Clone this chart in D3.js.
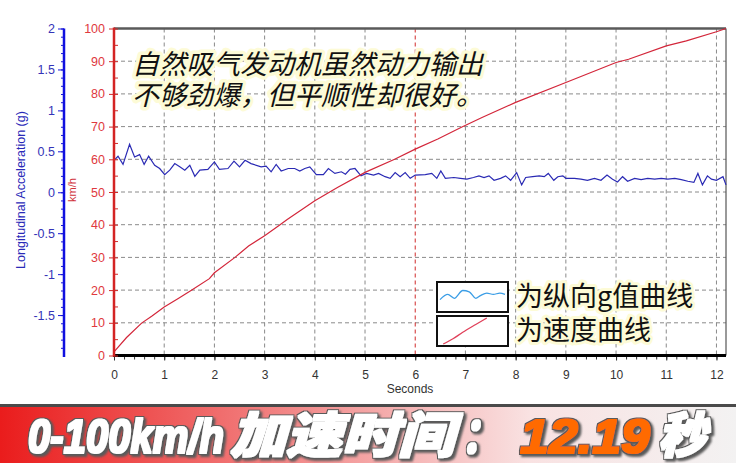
<!DOCTYPE html>
<html><head><meta charset="utf-8">
<script src="https://cdn.jsdelivr.net/npm/d3@7"></script>
<style>
html,body{margin:0;padding:0;background:#fff;}
svg{display:block;}
</style></head>
<body>
<svg id="c" width="736" height="463"></svg>
<script>
// ---- data ----
const speedT = [0, 0.25, 0.55, 0.75, 1, 1.28, 1.55, 1.9, 2, 2.41, 2.68, 3, 3.28, 3.45, 4, 4.45, 5, 5.59, 6, 6.45, 6.92, 7.33, 8, 9, 10, 10.25, 11, 11.4, 12, 12.19];
const speedV = [1.1, 5.5, 9.9, 12, 14.8, 17.4, 20, 23.5, 25.3, 30, 33.5, 36.6, 39.7, 41.6, 47.3, 51.4, 56, 60, 63.1, 66.2, 69.8, 72.8, 77.4, 83.5, 89.6, 90.6, 94.7, 96.2, 99, 100];

const gT = [0, 0.08, 0.18, 0.31, 0.41, 0.51, 0.6, 0.69, 0.81, 0.91, 1.01, 1.11, 1.21, 1.31, 1.41, 1.51, 1.61, 1.71, 1.87, 2.0, 2.1, 2.27, 2.39, 2.5, 2.61, 2.73, 2.93, 3.03, 3.13, 3.23, 3.33, 3.47, 3.6, 3.7, 3.8, 3.9, 4.03, 4.17, 4.27, 4.4, 4.53, 4.61, 4.7, 4.8, 4.92, 5.03, 5.17, 5.27, 5.4, 5.5, 5.6, 5.7, 5.8, 5.9, 6.0, 6.2, 6.33, 6.43, 6.51, 6.6, 6.77, 6.9, 7.03, 7.16, 7.27, 7.37, 7.47, 7.57, 7.7, 7.8, 7.9, 8.02, 8.12, 8.2, 8.34, 8.47, 8.57, 8.65, 8.76, 8.84, 8.94, 9.0, 9.17, 9.3, 9.43, 9.57, 9.7, 9.82, 9.93, 10.03, 10.13, 10.23, 10.37, 10.5, 10.63, 10.77, 10.9, 11.03, 11.17, 11.3, 11.43, 11.55, 11.63, 11.72, 11.82, 11.9, 12.0, 12.13, 12.19];
const gV = [0.39, 0.44, 0.34, 0.585, 0.43, 0.46, 0.34, 0.44, 0.33, 0.29, 0.215, 0.27, 0.35, 0.31, 0.27, 0.33, 0.195, 0.27, 0.28, 0.37, 0.28, 0.29, 0.38, 0.31, 0.39, 0.35, 0.31, 0.32, 0.25, 0.34, 0.26, 0.29, 0.29, 0.26, 0.29, 0.31, 0.215, 0.215, 0.29, 0.23, 0.25, 0.22, 0.28, 0.29, 0.2, 0.23, 0.21, 0.23, 0.19, 0.17, 0.24, 0.19, 0.24, 0.17, 0.21, 0.215, 0.23, 0.17, 0.26, 0.17, 0.18, 0.17, 0.16, 0.18, 0.2, 0.18, 0.2, 0.146, 0.17, 0.2, 0.146, 0.24, 0.09, 0.18, 0.19, 0.2, 0.19, 0.23, 0.146, 0.19, 0.2, 0.17, 0.17, 0.16, 0.146, 0.17, 0.146, 0.21, 0.16, 0.126, 0.19, 0.134, 0.17, 0.155, 0.17, 0.16, 0.17, 0.16, 0.17, 0.155, 0.134, 0.12, 0.23, 0.09, 0.2, 0.16, 0.146, 0.19, 0.09];

const xTicks = [0,1,2,3,4,5,6,7,8,9,10,11,12];
const speedTicks = [0,10,20,30,40,50,60,70,80,90,100];
const gTicks = [-1.5,-1,-0.5,0,0.5,1,1.5,2];
const noteLines = ["自然吸气发动机虽然动力输出", "不够劲爆，但平顺性却很好。"];
const legendLabels = ["为纵向g值曲线", "为速度曲线"];
const bannerParts = ["0-100km/h", "加速时间", "：", "12.19", "秒"];

// ---- scales ----
const svg = d3.select("#c");
const x = d3.scaleLinear().domain([0, 12.19]).range([114, 726]);
const yS = d3.scaleLinear().domain([0, 100]).range([355.5, 28.5]);
const yG = d3.scaleLinear().domain([-2, 2]).range([356, 28.5]);
const pTop = 28.5, pBottom = 355.5, pLeft = 114, pRight = 726;
const FONT = "'Liberation Sans', Arial, sans-serif";
const CJK = "'Noto Sans CJK SC', sans-serif";

// ---- defs ----
const defs = svg.append("defs");
const gr = defs.append("linearGradient").attr("id", "bg").attr("x1", 0).attr("x2", 1).attr("y1", 0).attr("y2", 0);
gr.append("stop").attr("offset", "0%").attr("stop-color", "#ea1c1c");
gr.append("stop").attr("offset", "35%").attr("stop-color", "#f17b7b");
gr.append("stop").attr("offset", "72%").attr("stop-color", "#f9e2e2");
gr.append("stop").attr("offset", "100%").attr("stop-color", "#f3f2f2");
const fb = defs.append("filter").attr("id", "heavy").attr("x", "-10%").attr("y", "-20%").attr("width", "130%").attr("height", "150%");
fb.append("feMorphology").attr("in", "SourceGraphic").attr("operator", "dilate").attr("radius", 0.9).attr("result", "fat");
fb.append("feMorphology").attr("in", "SourceAlpha").attr("operator", "dilate").attr("radius", 2).attr("result", "ol");
fb.append("feFlood").attr("flood-color", "#5a5a5a").attr("result", "fc");
fb.append("feComposite").attr("in", "fc").attr("in2", "ol").attr("operator", "in").attr("result", "olc");
fb.append("feOffset").attr("in", "olc").attr("dx", 2).attr("dy", 2).attr("result", "sh");
fb.append("feGaussianBlur").attr("in", "sh").attr("stdDeviation", 1).attr("result", "shb");
const fm = fb.append("feMerge");
fm.append("feMergeNode").attr("in", "shb");
fm.append("feMergeNode").attr("in", "olc");
fm.append("feMergeNode").attr("in", "fat");

// ---- grid ----
const grid = svg.append("g");
grid.selectAll("line.h").data(speedTicks.filter(d => d > 0 && d < 100)).join("line")
  .attr("x1", pLeft).attr("x2", pRight).attr("y1", d => yS(d)).attr("y2", d => yS(d))
  .attr("stroke", "#8a8a8a").attr("stroke-width", 1).attr("stroke-dasharray", "4,3");
grid.selectAll("line.v").data(xTicks.filter(d => d > 0)).join("line")
  .attr("x1", d => x(d)).attr("x2", d => x(d)).attr("y1", pTop).attr("y2", pBottom)
  .attr("stroke", d => d === 6 ? "#d02a2a" : "#8a8a8a").attr("stroke-width", 1)
  .attr("stroke-dasharray", "4,3");

// borders
svg.append("line").attr("x1", pLeft).attr("x2", pRight).attr("y1", pTop).attr("y2", pTop)
  .attr("stroke", "#5a5a5a").attr("stroke-width", 2.5);
svg.append("line").attr("x1", pRight).attr("x2", pRight).attr("y1", pTop).attr("y2", pBottom)
  .attr("stroke", "#555").attr("stroke-width", 1.2);

// ---- annotation text ----
const note = svg.append("g").attr("font-family", CJK)
  .attr("font-size", 27).attr("font-style", "italic");
note.selectAll("text").data(noteLines).join("text")
  .attr("x", 132).attr("y", (d, i) => 74 + i * 31)
  .attr("fill", "#111").attr("stroke", "#fdfbd6").attr("stroke-width", 7)
  .attr("stroke-linejoin", "round").attr("paint-order", "stroke")
  .text(d => d);

// ---- lines ----
const speedData = speedT.map((t, i) => [t, speedV[i]]);
const gData = gT.map((t, i) => [t, gV[i]]);
svg.append("path").datum(gData)
  .attr("d", d3.line().x(d => x(d[0])).y(d => yG(d[1])))
  .attr("fill", "none").attr("stroke", "#2a2ab4").attr("stroke-width", 1.2);
svg.append("path").datum(speedData)
  .attr("d", d3.line().x(d => x(d[0])).y(d => yS(d[1])))
  .attr("fill", "none").attr("stroke", "#d3263a").attr("stroke-width", 1.2);

// ---- x axis ----
const xa = svg.append("g").attr("transform", `translate(0,${pBottom})`);
xa.append("g").call(d3.axisBottom(x).tickValues(d3.range(0, 12.01, 0.2)).tickSize(4).tickFormat(""));
xa.append("g").call(d3.axisBottom(x).tickValues(xTicks).tickSize(5).tickPadding(10).tickFormat(d3.format("d")));
xa.selectAll(".domain").remove();
xa.selectAll("line").attr("stroke", "#333");
xa.selectAll("text").attr("font-family", FONT).attr("font-size", 12).attr("fill", "#333");
svg.append("line").attr("x1", pLeft - 1).attr("x2", pRight).attr("y1", pBottom).attr("y2", pBottom)
  .attr("stroke", "#000").attr("stroke-width", 3);
svg.append("text").attr("x", 410).attr("y", 393).attr("text-anchor", "middle")
  .attr("font-family", FONT).attr("font-size", 12).attr("fill", "#333").text("Seconds");

// ---- speed (red) axis ----
const ra = svg.append("g").attr("transform", `translate(${pLeft},0)`);
ra.append("g").call(d3.axisLeft(yS).tickValues(d3.range(0, 101, 5)).tickSize(-4).tickFormat(""));
ra.append("g").call(d3.axisLeft(yS).tickValues(speedTicks).tickSize(5).tickPadding(4));
ra.selectAll(".domain").remove();
ra.selectAll("line").attr("stroke", "#d02a2a").attr("stroke-width", 1);
ra.selectAll("text").attr("font-family", FONT).attr("font-size", 12.5).attr("fill", "#e0393e");
svg.append("line").attr("x1", pLeft).attr("x2", pLeft).attr("y1", pTop - 1).attr("y2", pBottom + 1)
  .attr("stroke", "#d42424").attr("stroke-width", 2.5);
svg.append("text").attr("transform", "translate(76,190) rotate(-90)").attr("text-anchor", "middle")
  .attr("font-family", FONT).attr("font-size", 11).attr("fill", "#d0303a").text("km/h");

// ---- g (blue) axis ----
const bx = 64;
const ba = svg.append("g").attr("transform", `translate(${bx},0)`);
ba.append("g").call(d3.axisLeft(yG).tickValues(d3.range(-19, 21, 1).map(d => d / 10)).tickSize(3).tickFormat(""));
ba.append("g").call(d3.axisLeft(yG).tickValues(gTicks).tickSize(6).tickPadding(3).tickFormat(d => d));
ba.selectAll(".domain").remove();
ba.selectAll("line").attr("stroke", "#1818d8").attr("stroke-width", 1);
ba.selectAll("text").attr("font-family", FONT).attr("font-size", 12.5).attr("fill", "#3434b8");
svg.append("line").attr("x1", bx).attr("x2", bx).attr("y1", pTop).attr("y2", 357)
  .attr("stroke", "#1010e0").attr("stroke-width", 2.5);
svg.append("text").attr("transform", "translate(25,190) rotate(-90)").attr("text-anchor", "middle")
  .attr("font-family", FONT).attr("font-size", 12.5).attr("fill", "#2a2ab8")
  .text("Longitudinal Acceleration (g)");

// ---- legend ----
const legendWave = [[0,0.6],[0.12,0.4],[0.22,0.55],[0.35,0.25],[0.45,0.3],[0.55,0.55],[0.62,0.45],[0.72,0.35],[0.82,0.4],[0.92,0.35],[1,0.4]];
const legendRamp = [[0.05,1],[0.2,0.8],[0.35,0.55],[0.55,0.25],[0.72,0]];
const lg = svg.append("g");
const boxes = [{y: 282, h: 30, pts: legendWave, col: "#3c9ee6"}, {y: 316, h: 30, pts: legendRamp, col: "#e0405a"}];
boxes.forEach((b, i) => {
  lg.append("rect").attr("x", 437).attr("y", b.y).attr("width", 71).attr("height", b.h)
    .attr("fill", "#fff").attr("stroke", "#111").attr("stroke-width", 2);
  const sx = d3.scaleLinear().domain([0, 1]).range([440, 505]);
  const sy = d3.scaleLinear().domain([0, 1]).range([b.y + 2, b.y + b.h - 2]);
  lg.append("path").datum(b.pts).attr("d", d3.line().x(d => sx(d[0])).y(d => sy(d[1])).curve(d3.curveMonotoneX))
    .attr("fill", "none").attr("stroke", b.col).attr("stroke-width", 1.3);
});
lg.selectAll("text").data(legendLabels).join("text")
  .attr("x", 516).attr("y", (d, i) => 306 + i * 34)
  .attr("font-family", CJK).attr("font-size", 27)
  .attr("fill", "#111").attr("stroke", "#fdfbd6").attr("stroke-width", 6)
  .attr("stroke-linejoin", "round").attr("paint-order", "stroke")
  .text(d => d);

// ---- banner ----
svg.append("rect").attr("x", 0).attr("y", 406).attr("width", 736).attr("height", 57).attr("fill", "url(#bg)");
svg.append("rect").attr("x", 0).attr("y", 404).attr("width", 736).attr("height", 3).attr("fill", "#4a4a4a");

const bannerPos = [
  {x: 28, w: 196, fill: "#fff", font: FONT},
  {x: 230, w: 224, fill: "#fff", font: CJK},
  {x: 462, w: 36, fill: "#fff", font: CJK},
  {x: 520, w: 130, fill: "#ff6a00", font: FONT},
  {x: 658, w: 48, fill: "#fff", font: CJK}
];
const bt = svg.append("g").attr("filter", "url(#heavy)");
bannerParts.forEach((s, i) => {
  const p = bannerPos[i];
  bt.append("text").attr("x", p.x).attr("y", 453).attr("font-family", p.font)
    .attr("font-size", 49).attr("font-weight", 900).attr("font-style", "italic")
    .attr("textLength", p.w).attr("lengthAdjust", "spacingAndGlyphs")
    .attr("fill", p.fill).text(s);
});
</script>
</body></html>
